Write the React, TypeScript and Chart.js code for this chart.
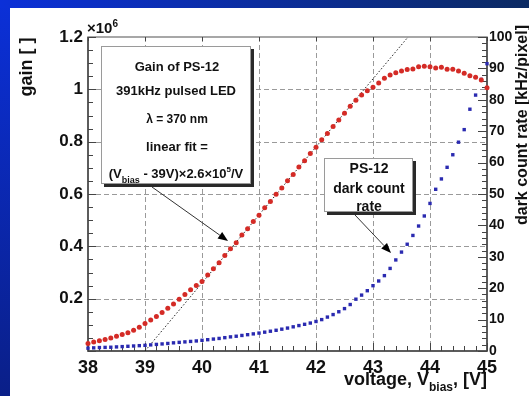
import React, { useEffect, useRef } from 'react';
import { Chart, registerables } from 'chart.js';

Chart.register(...registerables);

// ---------- data ----------
const voltage = [
  38.0, 38.1, 38.2, 38.3, 38.4, 38.5, 38.6, 38.7, 38.8, 38.9,
  39.0, 39.1, 39.2, 39.3, 39.4, 39.5, 39.6, 39.7, 39.8, 39.9,
  40.0, 40.1, 40.2, 40.3, 40.4, 40.5, 40.6, 40.7, 40.8, 40.9,
  41.0, 41.1, 41.2, 41.3, 41.4, 41.5, 41.6, 41.7, 41.8, 41.9,
  42.0, 42.1, 42.2, 42.3, 42.4, 42.5, 42.6, 42.7, 42.8, 42.9,
  43.0, 43.1, 43.2, 43.3, 43.4, 43.5, 43.6, 43.7, 43.8, 43.9,
  44.0, 44.1, 44.2, 44.3, 44.4, 44.5, 44.6, 44.7, 44.8, 44.9,
  45.0,
];

// gain in units of 10^6
const gainE6 = [
  0.029, 0.034, 0.039, 0.044, 0.050, 0.056, 0.063, 0.070, 0.079, 0.091,
  0.105, 0.118, 0.132, 0.147, 0.163, 0.180, 0.198, 0.216, 0.234, 0.250,
  0.266, 0.290, 0.314, 0.337, 0.365, 0.391, 0.414, 0.443, 0.467, 0.495,
  0.519, 0.547, 0.571, 0.599, 0.623, 0.651, 0.675, 0.703, 0.727, 0.755,
  0.779, 0.807, 0.831, 0.858, 0.883, 0.909, 0.935, 0.958, 0.978, 0.995,
  1.008, 1.024, 1.042, 1.055, 1.063, 1.070, 1.076, 1.078, 1.086, 1.088,
  1.086, 1.082, 1.084, 1.077, 1.077, 1.070, 1.061, 1.052, 1.046, 1.036,
  1.006,
];

// dark count rate, kHz/pixel
const darkRate = [
  0.9, 1.0, 1.1, 1.15, 1.2, 1.3, 1.4, 1.5, 1.6, 1.7,
  1.8, 1.95, 2.1, 2.25, 2.4, 2.6, 2.75, 2.9, 3.05, 3.2,
  3.4, 3.6, 3.8, 4.0, 4.25, 4.5, 4.7, 4.95, 5.2, 5.45,
  5.7, 6.0, 6.3, 6.6, 6.95, 7.3, 7.7, 8.1, 8.5, 8.9,
  9.4, 10.0, 10.8, 11.6, 12.5, 13.5, 14.8, 16.5, 17.8, 19.2,
  20.8, 22.3, 24.0, 26.3, 29.0, 31.5, 34.0, 36.8, 39.8, 43.0,
  47.0, 51.5, 54.8, 58.5, 62.5, 66.5, 70.5, 77.0, 81.5, 86.5,
  91.5,
];

// linear fit (Vbias - 39V) x 2.6e5 / V, end points
const fitVoltage = [39.0, 43.615];
const fitGainE6 = [0, 1.2];

const FONT = "'Liberation Sans', Arial, Helvetica, sans-serif";

function drawSubText(
  ctx: CanvasRenderingContext2D,
  parts: { t: string; size: number; dy: number }[],
  x: number,
  y: number,
  align: 'center' | 'left' | 'right'
) {
  let total = 0;
  const widths = parts.map((p) => {
    ctx.font = `bold ${p.size}px ${FONT}`;
    const w = ctx.measureText(p.t).width;
    total += w;
    return w;
  });
  let cx = align === 'center' ? x - total / 2 : align === 'right' ? x - total : x;
  ctx.textAlign = 'left';
  ctx.textBaseline = 'alphabetic';
  parts.forEach((p, i) => {
    ctx.font = `bold ${p.size}px ${FONT}`;
    ctx.fillText(p.t, cx, y + p.dy);
    cx += widths[i];
  });
}

function drawBox(ctx: CanvasRenderingContext2D, x: number, y: number, w: number, h: number) {
  ctx.fillStyle = '#2a2a2a';
  ctx.fillRect(x + 3, y + 3, w, h);
  ctx.fillStyle = '#ffffff';
  ctx.fillRect(x, y, w, h);
  ctx.strokeStyle = '#9a9a9a';
  ctx.lineWidth = 1;
  ctx.strokeRect(x + 0.5, y + 0.5, w - 1, h - 1);
}

function drawArrow(ctx: CanvasRenderingContext2D, x1: number, y1: number, x2: number, y2: number) {
  const ang = Math.atan2(y2 - y1, x2 - x1);
  const len = 10;
  const hw = 4;
  ctx.strokeStyle = '#333';
  ctx.lineWidth = 1;
  ctx.beginPath();
  ctx.moveTo(x1, y1);
  ctx.lineTo(x2 - Math.cos(ang) * len, y2 - Math.sin(ang) * len);
  ctx.stroke();
  ctx.fillStyle = '#000';
  ctx.beginPath();
  ctx.moveTo(x2, y2);
  const bx = x2 - Math.cos(ang) * len;
  const by = y2 - Math.sin(ang) * len;
  ctx.lineTo(bx + Math.sin(ang) * hw, by - Math.cos(ang) * hw);
  ctx.lineTo(bx - Math.sin(ang) * hw, by + Math.cos(ang) * hw);
  ctx.closePath();
  ctx.fill();
}

const decor = {
  id: 'decor',
  beforeDraw(chart: any) {
    const { ctx, width, height } = chart;
    ctx.save();
    const gl = ctx.createLinearGradient(0, 0, 0, height);
    gl.addColorStop(0, '#0b30d8');
    gl.addColorStop(1, '#0a1f88');
    ctx.fillStyle = gl;
    ctx.fillRect(0, 0, width, height);
    const gt = ctx.createLinearGradient(0, 0, width, 0);
    gt.addColorStop(0, '#0b30d8');
    gt.addColorStop(1, '#0b2a62');
    ctx.fillStyle = gt;
    ctx.fillRect(0, 0, width, 8);
    ctx.fillStyle = '#ffffff';
    ctx.fillRect(10, 8, width - 10, height - 8);
    ctx.restore();
  },
  beforeDatasetsDraw(chart: any) {
    const { ctx, chartArea: a, scales } = chart;
    const xs = scales.x;
    const ys = scales.y;
    const y2 = scales.y2;
    ctx.save();
    // dashed grid
    ctx.strokeStyle = '#9a9a9a';
    ctx.lineWidth = 1;
    ctx.setLineDash([5, 3]);
    for (let v = 39; v <= 44; v++) {
      const px = Math.round(xs.getPixelForValue(v)) + 0.5;
      ctx.beginPath();
      ctx.moveTo(px, a.top);
      ctx.lineTo(px, a.bottom);
      ctx.stroke();
    }
    for (let i = 1; i <= 5; i++) {
      const py = Math.round(ys.getPixelForValue(i * 0.2)) + 0.5;
      ctx.beginPath();
      ctx.moveTo(a.left, py);
      ctx.lineTo(a.right, py);
      ctx.stroke();
    }
    ctx.setLineDash([]);
    // frame
    ctx.strokeStyle = '#8a8a8a';
    ctx.lineWidth = 1.5;
    ctx.strokeRect(a.left, a.top, a.right - a.left, a.bottom - a.top);
    ctx.strokeStyle = '#444';
    ctx.beginPath();
    ctx.moveTo(a.left, a.top);
    ctx.lineTo(a.left, a.bottom);
    ctx.lineTo(a.right, a.bottom);
    ctx.lineTo(a.right, a.top);
    ctx.stroke();
    // ticks
    ctx.strokeStyle = '#444';
    ctx.lineWidth = 1;
    for (let i = 0; i <= 24; i++) {
      const py = Math.round(ys.getPixelForValue(i * 0.05)) + 0.5;
      const l = i % 4 === 0 ? 8 : 5;
      ctx.beginPath();
      ctx.moveTo(a.left, py);
      ctx.lineTo(a.left + l, py);
      ctx.stroke();
    }
    for (let i = 0; i <= 35; i++) {
      const px = Math.round(xs.getPixelForValue(38 + i * 0.2)) + 0.5;
      const l = i % 5 === 0 ? 8 : 5;
      ctx.beginPath();
      ctx.moveTo(px, a.bottom);
      ctx.lineTo(px, a.bottom - l);
      ctx.stroke();
      if (i % 5 === 0) {
        ctx.beginPath();
        ctx.moveTo(px, a.top);
        ctx.lineTo(px, a.top + 4);
        ctx.stroke();
      }
    }
    for (let i = 0; i <= 50; i++) {
      const py = Math.round(y2.getPixelForValue(i * 2)) + 0.5;
      const l = i % 5 === 0 ? 9 : 5;
      ctx.beginPath();
      ctx.moveTo(a.right, py);
      ctx.lineTo(a.right - l, py);
      ctx.stroke();
    }
    ctx.restore();
  },
  afterDraw(chart: any) {
    const { ctx } = chart;
    ctx.save();
    ctx.fillStyle = '#111';
    // x10^6
    drawSubText(ctx, [
      { t: '\u00d710', size: 15, dy: 0 },
      { t: '6', size: 10, dy: -6 },
    ], 87, 33, 'left');
    // left title
    ctx.save();
    ctx.translate(32, 67);
    ctx.rotate(-Math.PI / 2);
    ctx.font = `bold 18px ${FONT}`;
    ctx.textAlign = 'center';
    ctx.textBaseline = 'alphabetic';
    ctx.fillText('gain [ ]', 0, 0);
    ctx.restore();
    // right title
    ctx.save();
    ctx.translate(527, 125);
    ctx.rotate(-Math.PI / 2);
    ctx.font = `bold 16px ${FONT}`;
    ctx.textAlign = 'center';
    ctx.textBaseline = 'alphabetic';
    ctx.fillText('dark count rate [kHz/pixel]', 0, 0);
    ctx.restore();
    // x title
    drawSubText(ctx, [
      { t: 'voltage, V', size: 18, dy: 0 },
      { t: 'bias', size: 12, dy: 6 },
      { t: ', [V]', size: 18, dy: 0 },
    ], 487, 385, 'right');

    // annotation box 1
    drawBox(ctx, 101, 46, 150, 138);
    ctx.fillStyle = '#111';
    drawSubText(ctx, [{ t: 'Gain of PS-12', size: 13, dy: 0 }], 177, 71, 'center');
    drawSubText(ctx, [{ t: '391kHz pulsed LED', size: 13, dy: 0 }], 176, 95, 'center');
    drawSubText(ctx, [{ t: '\u03bb = 370 nm', size: 12, dy: 0 }], 177, 123, 'center');
    drawSubText(ctx, [{ t: 'linear fit =', size: 13, dy: 0 }], 177, 151, 'center');
    drawSubText(ctx, [
      { t: '(V', size: 13, dy: 0 },
      { t: 'bias', size: 9, dy: 5 },
      { t: ' - 39V)\u00d72.6\u00d710', size: 13, dy: 0 },
      { t: '5', size: 8, dy: -6 },
      { t: '/V', size: 13, dy: 0 },
    ], 176, 178, 'center');

    // annotation box 2
    drawBox(ctx, 324, 158, 89, 54);
    ctx.fillStyle = '#111';
    drawSubText(ctx, [{ t: 'PS-12', size: 14, dy: 0 }], 369, 173, 'center');
    drawSubText(ctx, [{ t: 'dark count', size: 14, dy: 0 }], 369, 193, 'center');
    drawSubText(ctx, [{ t: 'rate', size: 14, dy: 0 }], 369, 211, 'center');

    // arrows
    drawArrow(ctx, 152, 187, 228, 241);
    drawArrow(ctx, 355, 215, 391, 253);
    ctx.restore();
  },
};

export default function App() {
  const ref = useRef<HTMLCanvasElement | null>(null);
  useEffect(() => {
    document.body.style.margin = '0';
    const canvas = ref.current;
    if (!canvas) return;
    const chart = new Chart(canvas, {
      type: 'scatter',
      data: {
        datasets: [
          {
            label: 'gain',
            data: voltage.map((v, i) => ({ x: v, y: gainE6[i] })),
            yAxisID: 'y',
            pointStyle: 'circle',
            pointRadius: 2.5,
            pointBackgroundColor: '#d42b26',
            pointBorderWidth: 0,
            showLine: false,
            clip: 6,
          },
          {
            label: 'dark count rate',
            data: voltage.map((v, i) => ({ x: v, y: darkRate[i] })),
            yAxisID: 'y2',
            pointStyle: 'rect',
            pointRadius: 2.4,
            pointBackgroundColor: '#2a2ab0',
            pointBorderWidth: 0,
            showLine: false,
            clip: 6,
          },
          {
            label: 'linear fit',
            data: fitVoltage.map((v, i) => ({ x: v, y: fitGainE6[i] })),
            yAxisID: 'y',
            showLine: true,
            pointRadius: 0,
            borderColor: '#222',
            borderWidth: 1,
            borderDash: [1.5, 2],
          },
        ],
      },
      options: {
        animation: false,
        responsive: false,
        devicePixelRatio: 1,
        layout: { padding: { left: 0, top: 37, right: 0, bottom: 0 } },
        plugins: { legend: { display: false }, tooltip: { enabled: false } },
        scales: {
          x: {
            type: 'linear',
            min: 38,
            max: 45,
            grid: { display: false, drawTicks: false },
            border: { display: false },
            ticks: {
              stepSize: 1,
              padding: 6,
              color: '#111',
              font: { family: FONT, size: 18, weight: 'bold' },
              callback: (v: any) => String(v),
            },
            afterFit: (s: any) => { s.height = 45; },
          },
          y: {
            type: 'linear',
            position: 'left',
            min: 0,
            max: 1.2,
            grid: { display: false, drawTicks: false },
            border: { display: false },
            ticks: {
              stepSize: 0.2,
              padding: 5,
              color: '#111',
              font: { family: FONT, size: 17, weight: 'bold' },
              callback: (v: any) => (Math.abs(v) < 1e-9 ? '' : String(Math.round(v * 10) / 10)),
            },
            afterFit: (s: any) => { s.width = 88; },
          },
          y2: {
            type: 'linear',
            position: 'right',
            min: 0,
            max: 100,
            grid: { display: false, drawTicks: false },
            border: { display: false },
            ticks: {
              stepSize: 10,
              padding: 2,
              color: '#111',
              font: { family: FONT, size: 14, weight: 'bold' },
            },
            afterFit: (s: any) => { s.width = 42; },
          },
        },
      },
      plugins: [decor],
    } as any);
    return () => chart.destroy();
  }, []);
  return (
    <div style={{ position: 'absolute', left: 0, top: 0, width: 529, height: 396 }}>
      <canvas ref={ref} width={529} height={396} style={{ display: 'block', width: 529, height: 396 }} />
    </div>
  );
}
